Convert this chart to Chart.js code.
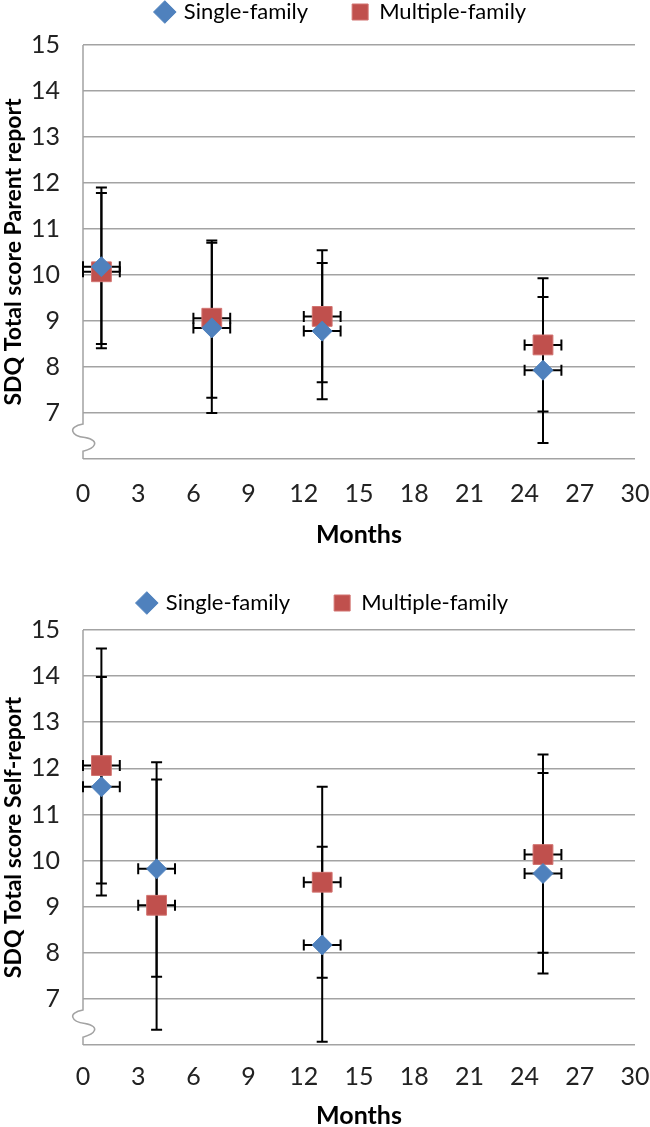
<!DOCTYPE html>
<html>
<head>
<meta charset="utf-8">
<script src="https://cdn.jsdelivr.net/npm/chart.js@4"></script>
<style>
  body { margin: 0; background: #fff; }
  .box { position: absolute; left: 0; width: 650px; }
</style>
</head>
<body>
<div class="box" style="top:0"><canvas id="parent" width="650" height="555"></canvas></div>
<div class="box" style="top:555px"><canvas id="self" width="650" height="572"></canvas></div>
<script>
// values
const yTicks = [6, 7, 8, 9, 10, 11, 12, 13, 14, 15];
const xTicks = [0, 3, 6, 9, 12, 15, 18, 21, 24, 27, 30];
const seriesNames = ["Single-family", "Multiple-family"];

// top panel: parent report
const parentMonths = [1, 7, 13, 25];
const parentMonthErr = [1, 1, 1, 1];
const parentSingle = [10.18, 8.85, 8.78, 7.93];
const parentSingleLow = [8.5, 7.0, 7.3, 6.35];
const parentSingleHigh = [11.9, 10.7, 10.26, 9.52];
const parentMultiple = [10.07, 9.06, 9.1, 8.48];
const parentMultipleLow = [8.41, 7.33, 7.67, 7.03];
const parentMultipleHigh = [11.78, 10.75, 10.54, 9.93];

// bottom panel: self-report
const selfMonths = [1, 4, 13, 25];
const selfMonthErr = [1, 1, 1, 1];
const selfSingle = [11.6, 9.82, 8.17, 9.72];
const selfSingleLow = [9.24, 7.48, 6.07, 7.55];
const selfSingleHigh = [13.98, 12.13, 10.3, 11.9];
const selfMultiple = [12.06, 9.03, 9.53, 10.13];
const selfMultipleLow = [9.5, 6.33, 7.46, 8.0];
const selfMultipleHigh = [14.6, 11.76, 11.6, 12.3];

const FONT = "Lato, 'Open Sans', sans-serif";
const GRID = "#a3a3a3";

// legend: fixed height and a small sideways shift
const legendBox = {
  id: "legendBox",
  afterInit(chart, args, opts) {
    const lg = chart.legend;
    const fit = lg.fit;
    lg.fit = function () {
      fit.call(this);
      this.height = opts.height;
    };
  },
  afterLayout(chart, args, opts) {
    chart.legend.left += opts.shift;
    chart.legend.right += opts.shift;
  }
};

// left axis line with the break mark near the bottom
const axisBreak = {
  id: "axisBreak",
  beforeDatasetsDraw(chart) {
    const { ctx, chartArea, scales: { y } } = chart;
    const x0 = chartArea.left;
    const b1 = y.getPixelForValue(6.76);
    const b2 = y.getPixelForValue(6.17);
    const mid = (b1 + b2) / 2;
    ctx.save();
    ctx.strokeStyle = GRID;
    ctx.lineWidth = 1.5;
    ctx.beginPath();
    ctx.moveTo(x0, chartArea.top);
    ctx.lineTo(x0, b1);
    ctx.bezierCurveTo(x0 - 16, b1 + 3, x0 - 12, mid - 2, x0 + 2, mid);
    ctx.bezierCurveTo(x0 + 18, mid + 3, x0 + 12, b2 - 3, x0, b2);
    ctx.lineTo(x0, chartArea.bottom);
    ctx.stroke();
    ctx.restore();
  }
};

// error bars, drawn under the markers
const errorBars = {
  id: "errorBars",
  beforeDatasetsDraw(chart) {
    const { ctx, scales: { x, y } } = chart;
    const cap = 5.5;
    ctx.save();
    ctx.strokeStyle = "#000";
    ctx.lineWidth = 2;
    chart.data.datasets.forEach(ds => {
      ds.data.forEach((p, i) => {
        const px = x.getPixelForValue(p.x);
        const py = y.getPixelForValue(p.y);
        const lo = y.getPixelForValue(ds.yLow[i]);
        const hi = y.getPixelForValue(ds.yHigh[i]);
        const l = x.getPixelForValue(p.x - ds.xErr[i]);
        const r = x.getPixelForValue(p.x + ds.xErr[i]);
        ctx.beginPath();
        ctx.moveTo(px, lo); ctx.lineTo(px, hi);
        ctx.moveTo(px - cap, lo); ctx.lineTo(px + cap, lo);
        ctx.moveTo(px - cap, hi); ctx.lineTo(px + cap, hi);
        ctx.moveTo(l, py); ctx.lineTo(r, py);
        ctx.moveTo(l, py - cap); ctx.lineTo(l, py + cap);
        ctx.moveTo(r, py - cap); ctx.lineTo(r, py + cap);
        ctx.stroke();
      });
    });
    ctx.restore();
  }
};

function points(xs, ys) {
  return xs.map((m, i) => ({ x: m, y: ys[i] }));
}

function makeChart(id, yTitle, d, lay) {
  return new Chart(document.getElementById(id), {
    type: "scatter",
    data: {
      datasets: [
        {
          label: seriesNames[0],
          data: points(d.months, d.single),
          yLow: d.singleLow, yHigh: d.singleHigh, xErr: d.err,
          pointStyle: "rectRot", pointRadius: 10,
          backgroundColor: "#4f81bd", borderColor: "#4f81bd", borderWidth: 1
        },
        {
          label: seriesNames[1],
          data: points(d.months, d.multiple),
          yLow: d.multipleLow, yHigh: d.multipleHigh, xErr: d.err,
          pointStyle: "rect", pointRadius: 14,
          backgroundColor: "#c0504d", borderColor: "#d27370", borderWidth: 1
        }
      ]
    },
    options: {
      responsive: false,
      animation: false,
      layout: { padding: { top: lay.padTop, right: 13, bottom: 0, left: 0 } },
      plugins: {
        tooltip: { enabled: false },
        legendBox: { height: lay.legendH, shift: lay.shift },
        legend: {
          position: "top",
          labels: {
            usePointStyle: true, boxWidth: 16, boxHeight: 16, padding: 44,
            color: "#000", font: { family: FONT, size: 22 }
          }
        }
      },
      scales: {
        x: {
          type: "linear", min: 0, max: 30,
          afterBuildTicks: s => { s.ticks = xTicks.map(v => ({ value: v })); },
          afterFit: s => {
            s.height = lay.xH;
            s.paddingLeft = 0;
            s.paddingRight = 0;
          },
          grid: { display: false },
          border: { display: false },
          ticks: { padding: lay.xPad, color: "#222", font: { family: FONT, size: 25 } },
          title: {
            display: true, text: "Months", color: "#000",
            font: { family: FONT, size: 25, weight: "bold" },
            padding: { top: 0, bottom: lay.titlePad }
          }
        },
        y: {
          type: "linear", min: 6, max: 15,
          afterBuildTicks: s => { s.ticks = yTicks.map(v => ({ value: v })); },
          afterFit: s => { s.width = 83; },
          grid: { color: GRID, lineWidth: 1.5, drawTicks: false },
          border: { display: false },
          ticks: {
            padding: 23, color: "#222", font: { family: FONT, size: 25 },
            callback: v => (v === 6 ? "" : v)
          },
          title: {
            display: true, text: yTitle, color: "#000",
            font: { family: FONT, size: 23, weight: "bold" },
            padding: { top: 0, bottom: 0 }
          }
        }
      }
    },
    plugins: [legendBox, axisBreak, errorBars]
  });
}

makeChart("parent", "SDQ Total score Parent report", {
  months: parentMonths, err: parentMonthErr,
  single: parentSingle, singleLow: parentSingleLow, singleHigh: parentSingleHigh,
  multiple: parentMultiple, multipleLow: parentMultipleLow, multipleHigh: parentMultipleHigh
}, { padTop: -43, legendH: 88, shift: 23, xH: 96, xPad: 12, titlePad: 5 });

makeChart("self", "SDQ Total score Self-report", {
  months: selfMonths, err: selfMonthErr,
  single: selfSingle, singleLow: selfSingleLow, singleHigh: selfSingleHigh,
  multiple: selfMultiple, multipleLow: selfMultipleLow, multipleHigh: selfMultipleHigh
}, { padTop: -7, legendH: 82, shift: 5, xH: 82, xPad: 9, titlePad: -4 });
</script>
</body>
</html>
